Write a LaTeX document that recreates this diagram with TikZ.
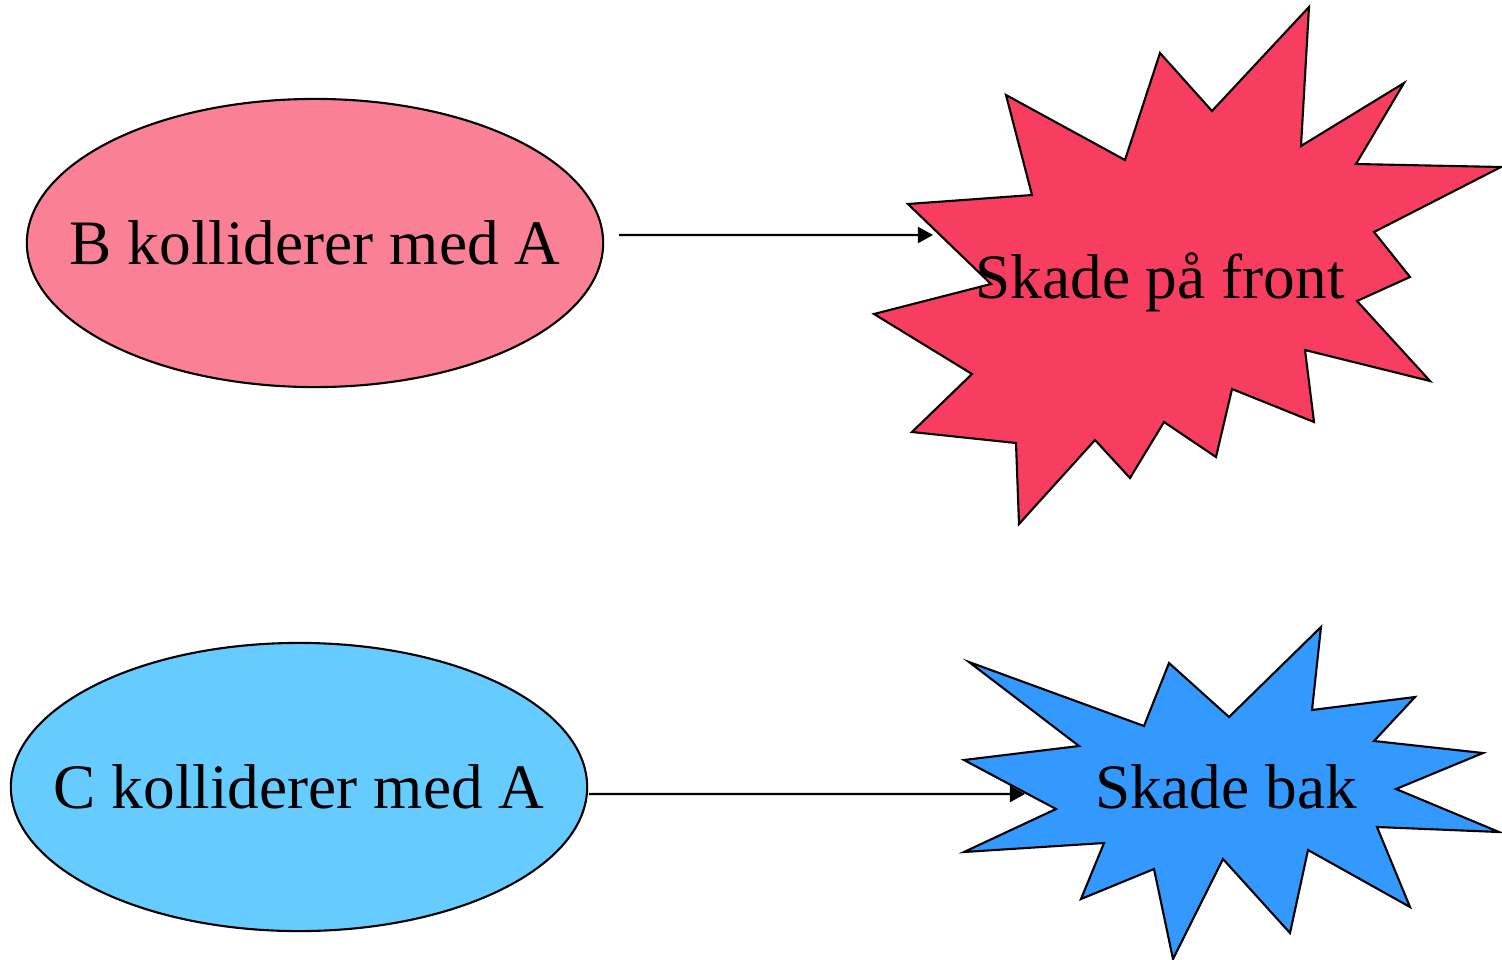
\documentclass[tikz,border=0pt]{standalone}
\usepackage{fontspec}
\setmainfont{Liberation Serif}
\usetikzlibrary{positioning, shapes.geometric, arrows.meta}
\definecolor{mpink}{RGB}{250,128,150}
\definecolor{mred}{RGB}{247,61,96}
\definecolor{mcyan}{RGB}{102,204,255}
\definecolor{mblue}{RGB}{51,153,255}

\begin{document}
\begin{tikzpicture}[x=0.01cm,y=-0.01cm,
    event/.style={ellipse,draw,line width=0.6pt,minimum width=5.76cm,minimum height=2.88cm,
      inner xsep=-0.6cm,inner ysep=0pt,font=\fontsize{18}{22}\selectfont},
    burst/.style={draw,line width=0.6pt,line join=miter},
    bursttext/.style={inner sep=0pt,anchor=base,font=\fontsize{18}{22}\selectfont},
    hit/.style={-{Triangle[length=1.5mm,width=1.6mm]},line width=0.6pt}]
  \useasboundingbox (0,0) rectangle (1502,960);
  % collision with B: damage at the front
  \node[event,fill=mpink] (bcoll) at (315,243) {B kolliderer med A};
  \draw[burst,fill=mred] (1309,7) -- (1301,146) -- (1404,83) -- (1356,164) -- (1501,167)
    -- (1374,232) -- (1410,277) -- (1357,301) -- (1430,381) -- (1305,350) -- (1314,422)
    -- (1232,389) -- (1216,457) -- (1164,422) -- (1130,478) -- (1095,440) -- (1019,524)
    -- (1016,443) -- (912,432) -- (972,374) -- (874,314) -- (991,284) -- (908,204)
    -- (1032,195) -- (1006,95) -- (1125,160) -- (1160,53) -- (1212,111) -- cycle;
  \node[bursttext] (front) at (1160,298) {Skade på front};
  \coordinate (fronthit) at (933,235);
  \draw[hit] ([shift={(0.15cm,0.08cm)}]bcoll.east) -- (fronthit);

  % collision with C: damage at the back
  \node[event,fill=mcyan] (ccoll) at (299,787) {C kolliderer med A};
  \draw[burst,fill=mblue] (1321,627) -- (1312,710) -- (1415,697) -- (1374,741) -- (1483,753)
    -- (1396,789) -- (1499,832) -- (1377,827) -- (1410,907) -- (1308,850) -- (1290,933)
    -- (1223,859) -- (1173,959) -- (1154,869) -- (1081,899) -- (1104,843) -- (964,852)
    -- (1056,809) -- (964,760) -- (1079,746) -- (969,662) -- (1144,726) -- (1169,663)
    -- (1229,717) -- cycle;
  \node[bursttext] (back) at (1226,808) {Skade bak};
  \coordinate (backhit) at (1025,794);
  \draw[hit] ([shift={(0.01cm,-0.07cm)}]ccoll.east) -- (backhit);
\end{tikzpicture}
\end{document}
